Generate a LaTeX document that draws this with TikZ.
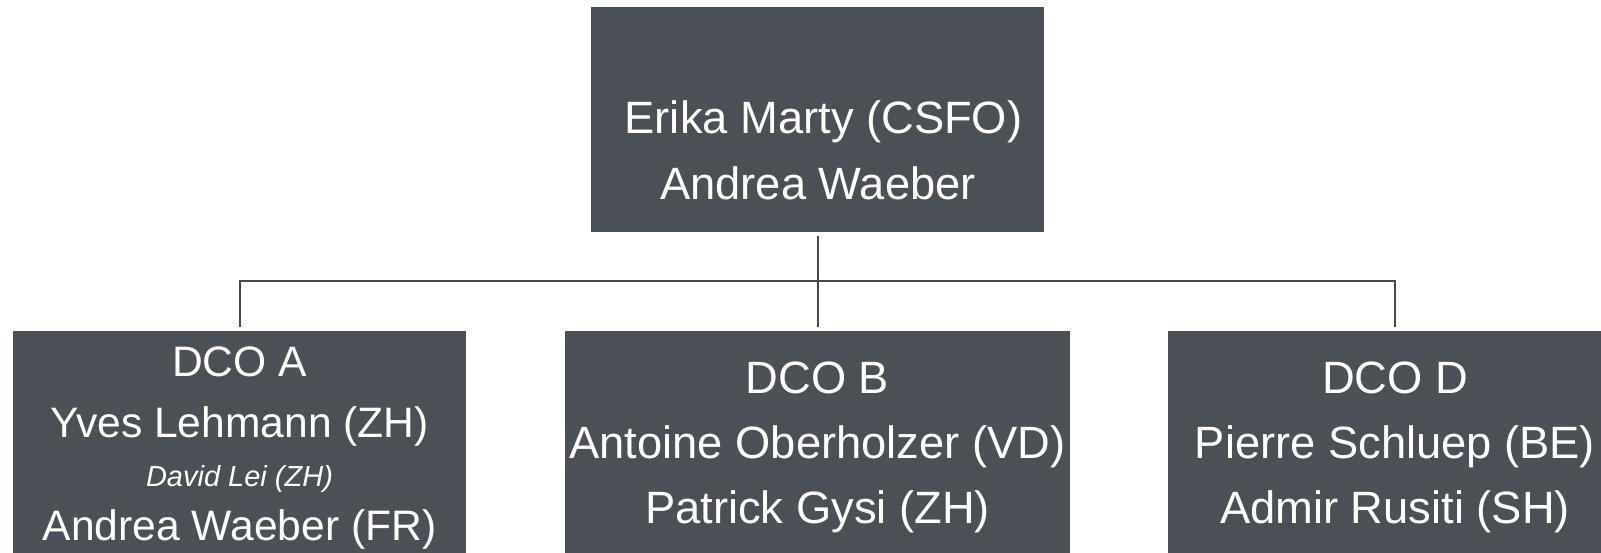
\documentclass[tikz,border=0pt]{standalone}
\usepackage{fontspec}
\setmainfont{Liberation Sans}
\definecolor{boxgray}{RGB}{74,80,86}
\definecolor{linegray}{RGB}{66,72,78}
\begin{document}
\begin{tikzpicture}[x=1pt,y=-1pt,
  box/.style={rectangle, fill=boxgray, draw=none, inner sep=0pt, anchor=north west},
  big/.style={anchor=base, inner sep=0pt, text=white, font=\fontsize{45.3}{52}\selectfont},
  mid/.style={anchor=base, inner sep=0pt, text=white, font=\fontsize{42.6}{50}\selectfont},
  small/.style={anchor=base, inner sep=0pt, text=white, font=\fontsize{29}{34}\selectfont\itshape},
  conn/.style={draw=linegray, line width=2pt, shorten <=3.5pt, shorten >=3.5pt}]
\path[use as bounding box, clip] (0,0) rectangle (1601,553);
\fill[white] (0,0) rectangle (1601,553);
% boxes
\node[box, minimum width=453pt, minimum height=225pt] (top) at (591,7) {};
\node[box, minimum width=453pt, minimum height=260pt] (a) at (13,331) {};
\node[box, minimum width=505pt, minimum height=260pt] (b) at (565,331) {};
\node[box, minimum width=454pt, minimum height=260pt] (d) at (1168,331) {};
% texts
\node[big] (t1) at (823.5,134) {Erika Marty (CSFO)};
\node[big] (t2) at (818,200) {Andrea Waeber};
\node[mid] (a1) at (239.5,376) {DCO A};
\node[mid] (a2) at (239.5,437) {Yves Lehmann (ZH)};
\node[small] (a3) at (239.5,486) {David Lei (ZH)};
\node[mid] (a4) at (239.5,540) {Andrea Waeber (FR)};
\node[big] (b1) at (817.5,393) {DCO B};
\node[big] (b2) at (817.5,458) {Antoine Oberholzer (VD)};
\node[big] (b3) at (817.5,523) {Patrick Gysi (ZH)};
\node[big] (d1) at (1395,393) {DCO D};
\node[big] (d2) at (1395,458) {Pierre Schluep (BE)};
\node[big] (d3) at (1395,523) {Admir Rusiti (SH)};
% connectors
\coordinate (bus) at (817.5,281);
\draw[conn] (top.south) -- (b.north);
\draw[conn, line join=miter] (a.north) -- (a.north |- bus) -| (d.north);
\end{tikzpicture}
\end{document}
